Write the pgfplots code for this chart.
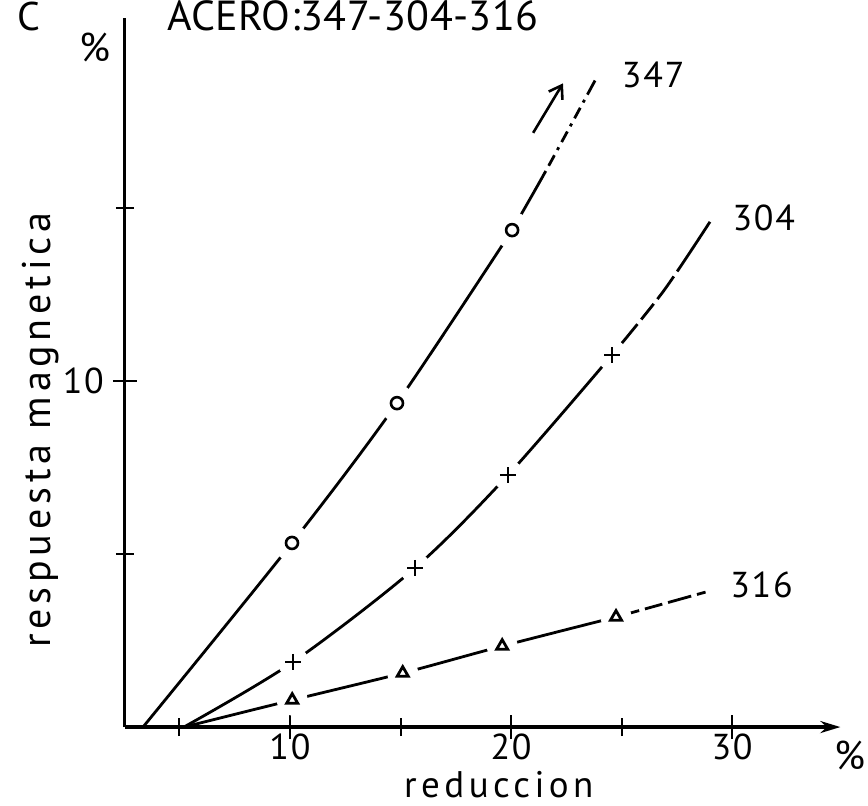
\documentclass[border=0pt]{standalone}
\usepackage{pgfplots}
\pgfplotsset{compat=1.18}
\usepackage{fontspec}
\setmainfont[LetterSpace=12]{PT Sans}
\newfontfamily\titlefont[LetterSpace=1]{PT Sans}
\newfontfamily\numberfont[LetterSpace=5]{PT Sans}
\usetikzlibrary{arrows.meta}

\newcommand{\lblfont}{\fontsize{20}{22}\selectfont}
\newcommand{\numfont}{\numberfont\fontsize{18}{20}\selectfont}

\begin{document}
\begin{tikzpicture}
\begin{axis}[
    x=11.05pt, y=17.3pt,
    xmin=2.53, xmax=34.9, ymin=0, ymax=20.5,
    enlargelimits=false,
    axis x line=bottom, axis y line=left,
    x axis line style={-{Stealth[length=10pt,width=6pt]}, line width=1.6pt},
    y axis line style={-, line width=1.6pt},
    xtick={10,20,30}, minor xtick={5,15,25},
    ytick={10}, minor ytick={5,15},
    tick align=center,
    major tick length=12pt, minor tick length=9pt,
    tick style={black, line width=1pt},
    ticklabel style={font=\numfont},
    /pgf/number format/assume math mode=true,
    xticklabel style={inner sep=0.5pt, yshift=3.5pt},
    yticklabel style={xshift=-1pt},
    clip=false,
]
% 347
\addplot[smooth, line width=1.4pt] coordinates {(3.35,0) (10.09,5.32) (14.84,9.36) (20.05,14.36)};
\addplot[smooth, line width=1.4pt, dash pattern=on 34pt off 3pt on 6pt off 3pt on 1.5pt off 3pt on 6pt off 3pt on 1.5pt off 3pt on 6pt off 3pt on 1.5pt off 3pt on 8pt off 3pt]
  coordinates {(20.05,14.36) (21.6,16.1) (23.9,18.8)};
% 304
\addplot[smooth, line width=1.4pt] coordinates {(5.2,0) (10.14,1.88) (15.66,4.6) (19.86,7.28) (24.57,10.75)};
\addplot[smooth, line width=1.4pt, dash pattern=on 20pt off 3pt on 10pt off 3pt on 14pt off 3pt on 40pt off 3pt]
  coordinates {(24.57,10.75) (26.9,12.6) (29.0,14.6)};
% 316
\addplot[smooth, line width=1.4pt] coordinates {(5.2,0) (10.1,0.78) (15.1,1.56) (19.6,2.34) (24.75,3.18)};
\addplot[line width=1.4pt, dash pattern=on 12pt off 3pt on 9pt off 3pt on 12pt off 3pt]
  coordinates {(24.75,3.18) (28.8,3.9)};
% gaps round the marks
\addplot[only marks, mark=*, mark size=9pt, white] coordinates {(10.09,5.32) (14.84,9.36) (20.05,14.36)};
\addplot[only marks, mark=*, mark size=7.5pt, white] coordinates {
  (10.14,1.88) (15.66,4.6) (19.86,7.28) (24.57,10.75)
  (10.1,0.78) (15.1,1.56) (19.6,2.34) (24.75,3.18)};
\addplot[only marks, mark=o, mark size=3pt, line width=1.3pt] coordinates {(10.09,5.32) (14.84,9.36) (20.05,14.36)};
\addplot[only marks, mark=+, mark size=4pt, line width=1.2pt] coordinates {(10.14,1.88) (15.66,4.6) (19.86,7.28) (24.57,10.75)};
\addplot[only marks, mark=triangle, mark size=3.2pt, line width=1.4pt] coordinates {(10.1,0.78) (15.1,1.56) (19.6,2.34) (24.75,3.18)};

\draw[-{Straight Barb[length=6pt,width=8pt]}, line width=1.3pt] (axis cs:21.0,17.17) -- (axis cs:22.35,18.6);

\node[anchor=base west, font=\titlefont\fontsize{21}{23}\selectfont] at (axis cs:4.12,20.14) {ACERO:347-304-316};
\node[anchor=base west, font=\lblfont] at (axis cs:-2.67,20.14) {C};
\node[font=\lblfont] at (axis cs:1.18,19.65) {\%};
\node[font=\lblfont] at (axis cs:35.34,-0.81) {\%};
\node[rotate=90, font=\lblfont, inner sep=0pt] at (axis cs:-1.27,8.58) {respuesta magnetica};
\node[font=\fontsize{18.5}{20}\selectfont, inner sep=0pt] at (axis cs:19.45,-1.66) {reduccion};
\node[anchor=west, font=\numfont] at (axis cs:24.7,18.84) {347};
\node[anchor=west, font=\numfont] at (axis cs:29.7,14.7) {304};
\node[anchor=west, font=\numfont] at (axis cs:29.6,4.1) {316};

\coordinate (bl) at (axis cs:-3.12,-2.28);
\coordinate (tr) at (axis cs:36.15,21.01);
\end{axis}
\pgfresetboundingbox
\useasboundingbox (bl) rectangle (tr);
\end{tikzpicture}
\end{document}
